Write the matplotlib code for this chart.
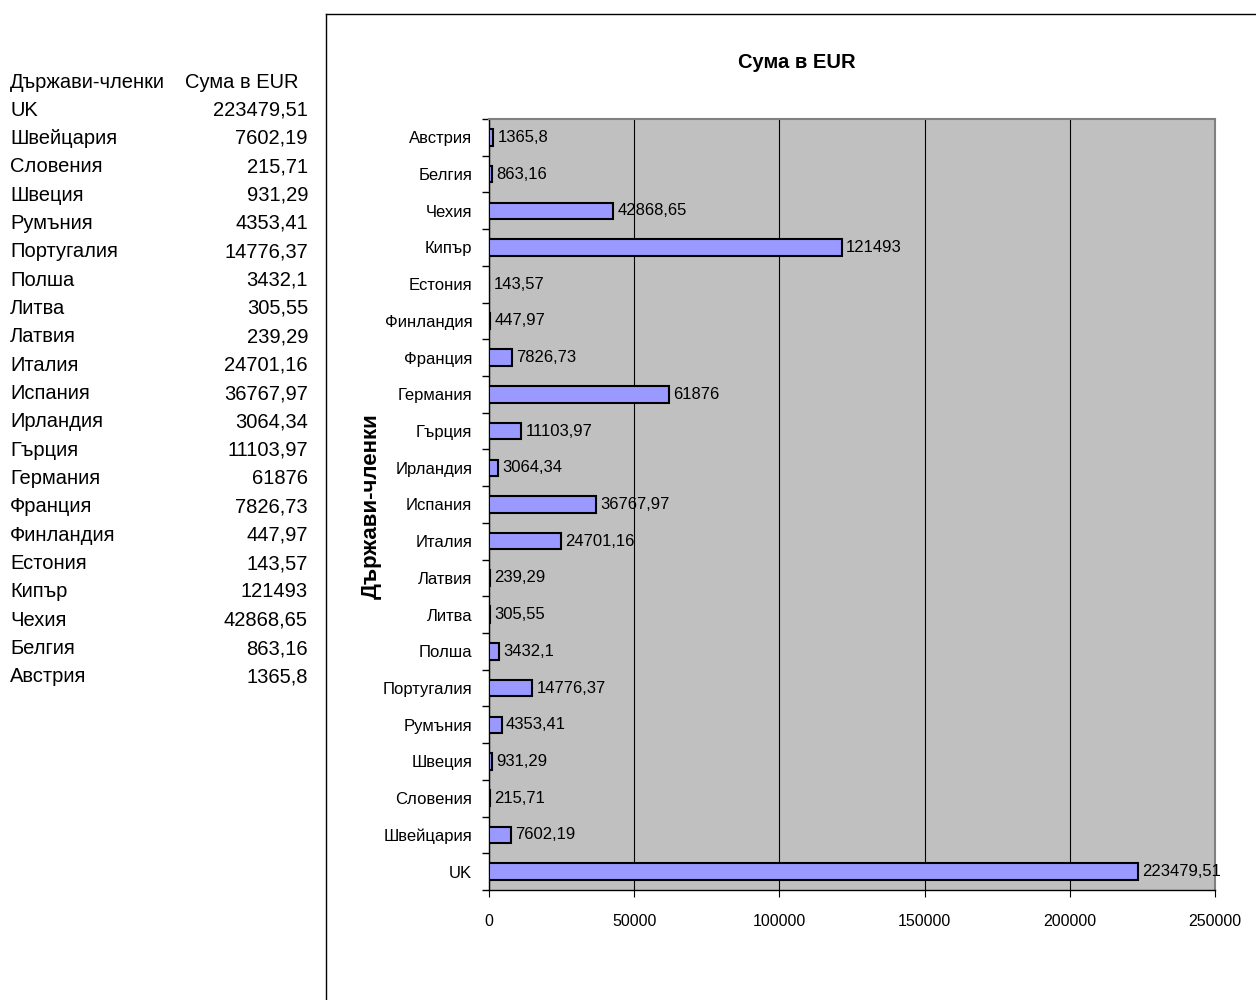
import matplotlib.pyplot as plt
from matplotlib.lines import Line2D
import numpy as np

plt.rcParams['font.family'] = ['Liberation Sans', 'DejaVu Sans']

countries = ['UK', 'Швейцария', 'Словения', 'Швеция', 'Румъния', 'Португалия',
             'Полша', 'Литва', 'Латвия', 'Италия', 'Испания', 'Ирландия',
             'Гърция', 'Германия', 'Франция', 'Финландия', 'Естония', 'Кипър',
             'Чехия', 'Белгия', 'Австрия']
amounts = [223479.51, 7602.19, 215.71, 931.29, 4353.41, 14776.37,
           3432.1, 305.55, 239.29, 24701.16, 36767.97, 3064.34,
           11103.97, 61876, 7826.73, 447.97, 143.57, 121493,
           42868.65, 863.16, 1365.8]
x_ticks = [0, 50000, 100000, 150000, 200000, 250000]


def fmt(v):
    s = f"{v:.2f}".rstrip('0').rstrip('.')
    return s.replace('.', ',')


W, H = 1256, 1000
fig = plt.figure(figsize=(W / 100, H / 100), dpi=100)

# table on the left
fig.text(10 / W, 1 - 82 / H, 'Държави-членки', fontsize=14.5, va='center', ha='left')
fig.text(185 / W, 1 - 82 / H, 'Сума в EUR', fontsize=14.5, va='center', ha='left')
for i, (c, v) in enumerate(zip(countries, amounts)):
    y = 1 - (110 + i * 28.35) / H
    fig.text(10 / W, y, c, fontsize=14.5, va='center', ha='left')
    fig.text(308 / W, y, fmt(v), fontsize=14.5, va='center', ha='right')

# chart area frame
fig.add_artist(Line2D([326 / W, 1.0], [1 - 14 / H, 1 - 14 / H], color='black', lw=1))
fig.add_artist(Line2D([326 / W, 326 / W], [1 - 14 / H, 0.0], color='black', lw=1))

left, right = 489 / W, 1215 / W
top, bottom = 1 - 119 / H, 1 - 890 / H
ax = fig.add_axes([left, bottom, right - left, top - bottom])
ax.set_facecolor('#C0C0C0')

pos = np.arange(len(countries))
ax.barh(pos, amounts, height=0.45, color='#9999FF', edgecolor='black', linewidth=1.5, zorder=3)
for p, v in zip(pos, amounts):
    ax.text(v + 1500, p, fmt(v), fontsize=12, va='center', ha='left', zorder=4)

ax.set_xlim(0, 250000)
ax.set_ylim(-0.5, len(countries) - 0.5)
ax.set_xticks(x_ticks)
ax.set_xticklabels([str(t) for t in x_ticks], fontsize=11.5)
ax.set_yticks(pos)
ax.set_yticklabels(countries, fontsize=12)
ax.set_yticks(np.arange(-0.5, len(countries), 1), minor=True)
ax.tick_params(axis='y', which='major', length=0, pad=12)
ax.tick_params(axis='y', which='minor', length=5, direction='out', width=1)
ax.tick_params(axis='x', length=5, direction='out', pad=12)
ax.xaxis.grid(True, color='black', lw=0.8, zorder=1)
ax.set_axisbelow(True)

for s in ['top', 'right']:
    ax.spines[s].set_color('#808080')
    ax.spines[s].set_linewidth(1.5)
for s in ['left', 'bottom']:
    ax.spines[s].set_color('black')
    ax.spines[s].set_linewidth(1)

fig.text(797 / W, 1 - 62 / H, 'Сума в EUR', fontsize=14.5, fontweight='bold', ha='center', va='center')
fig.text(371 / W, 1 - 506 / H, 'Държави-членки', fontsize=16, fontweight='bold',
         ha='center', va='center', rotation=90)

fig.savefig('out.png', dpi=100)
